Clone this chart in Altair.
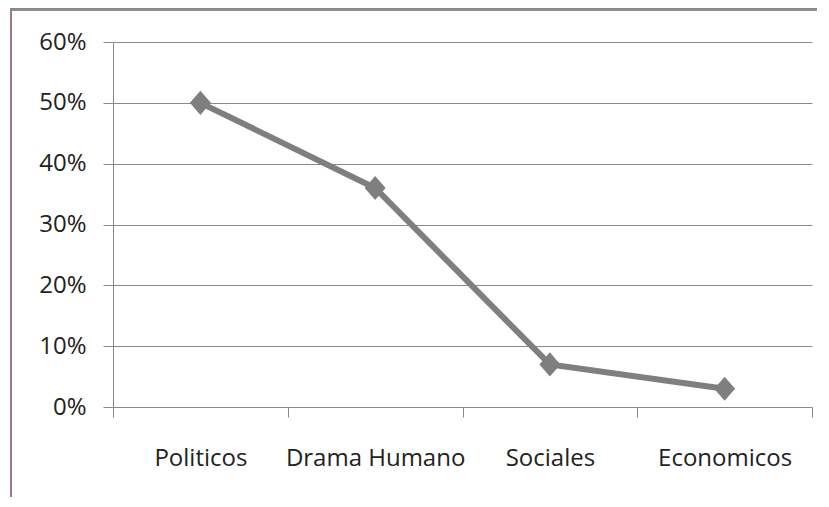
import altair as alt
import pandas as pd

categories = ["Politicos", "Drama Humano", "Sociales", "Economicos"]
values = [0.50, 0.36, 0.07, 0.03]
y_ticks = [0, 0.1, 0.2, 0.3, 0.4, 0.5, 0.6]

df = pd.DataFrame({"cat": categories, "val": values})

FONT = "Open Sans"
W, H = 699, 365
PL, PT, PR, PB = 105, 34, 5, 90
GRAY = "#7f7f7f"
GRID = "#8a8a8a"

x_enc = alt.X(
    "cat:N",
    sort=categories,
    title=None,
    bandPosition=0.5,
    scale=alt.Scale(type="band", paddingInner=0, paddingOuter=0),
    axis=alt.Axis(
        tickBand="extent",
        grid=False,
        domainColor=GRID,
        tickColor=GRID,
        tickSize=10,
        labelAngle=0,
        labelPadding=29,
        labelFont=FONT,
        labelFontSize=24,
        labelColor="#222222",
    ),
)
y_enc = alt.Y(
    "val:Q",
    title=None,
    scale=alt.Scale(domain=[0, 0.6], nice=False),
    axis=alt.Axis(
        values=y_ticks,
        format=".0%",
        grid=True,
        gridColor=GRID,
        domainColor=GRID,
        tickColor=GRID,
        tickSize=10,
        labelPadding=17,
        labelFont=FONT,
        labelFontSize=24,
        labelColor="#222222",
    ),
)

line = alt.Chart(df).mark_line(color=GRAY, strokeWidth=6).encode(x=x_enc, y=y_enc)
points = alt.Chart(df).mark_point(
    shape="M-1,0L0,-1.15L1,0L0,1.15Z", filled=True, color=GRAY, opacity=1, size=440
).encode(x=x_enc, y=y_enc)

border_left = alt.Chart(df).mark_rule(color="#a07a7a", strokeWidth=2).encode(
    x=alt.value(-PL + 3), y=alt.value(-PT), y2=alt.value(H + PB)
)
border_top = alt.Chart(df).mark_rule(color="#8a8a8a", strokeWidth=3).encode(
    y=alt.value(-PT + 1), x=alt.value(-PL + 2), x2=alt.value(W + PR)
)

chart = (
    alt.layer(line, points, border_left, border_top)
    .properties(
        width=W,
        height=H,
        autosize=alt.AutoSizeParams(type="none"),
        padding={"left": PL, "top": PT, "right": PR, "bottom": PB},
    )
    .configure_view(stroke=None)
)

chart.save("out.html", embed_options={"renderer": "svg", "actions": False})
